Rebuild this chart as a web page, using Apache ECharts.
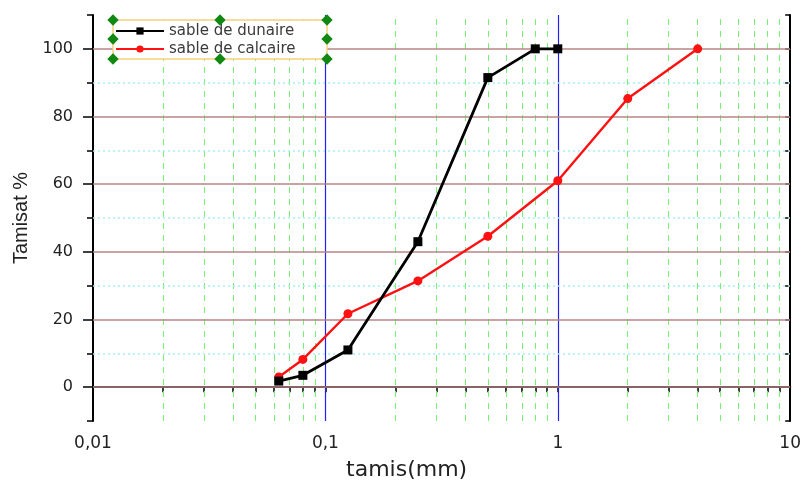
<!DOCTYPE html>
<html><head><meta charset="utf-8">
<script src="https://cdn.jsdelivr.net/npm/echarts@6/dist/echarts.min.js"></script>
<style>html,body{margin:0;padding:0;background:#fff}#c{width:804px;height:486px}</style>
</head><body><div id="c"></div>
<script>
// ---- data ----
const sievesDunaire = [0.063, 0.08, 0.125, 0.25, 0.5, 0.8, 1];
const passingDunaire = [1.8, 3.5, 11, 43, 91.5, 100, 100];
const sievesCalcaire = [0.063, 0.08, 0.125, 0.25, 0.5, 1, 2, 4];
const passingCalcaire = [3, 8.2, 21.7, 31.4, 44.6, 61, 85.3, 100];
const seriesNames = ['sable de dunaire', 'sable de calcaire'];
const xMajorTicks = [0.01, 0.1, 1, 10];
const yMajorTicks = [0, 20, 40, 60, 80, 100];
const yMinorGrid = [10, 30, 50, 70, 90];
const decadeMultipliers = [2, 3, 4, 5, 6, 7, 8, 9];
const decades = [0.01, 0.1, 1];

const xMinor = [];
decades.forEach(d => decadeMultipliers.forEach(k => xMinor.push(+(k * d).toPrecision(3))));
const xAllTicks = [];
decades.forEach(d => { xAllTicks.push(d); decadeMultipliers.forEach(k => xAllTicks.push(+(k * d).toPrecision(3))); });
xAllTicks.push(10);

const FONT = 'DejaVu Sans';
const chart = echarts.init(document.getElementById('c'), null, {renderer: 'canvas'});

const gridLines = [];
xMinor.forEach(v => gridLines.push({xAxis: v, lineStyle: {color: '#77ee77', type: [6, 6], width: 1}}));
[0.1, 1].forEach(v => gridLines.push({xAxis: v, lineStyle: {color: '#2222ee', type: 'solid', width: 1.2}}));
yMinorGrid.forEach(v => gridLines.push({yAxis: v, lineStyle: {color: '#a8f0f4', type: [2, 3], width: 1.5}}));
yMajorTicks.forEach(v => gridLines.push({yAxis: v, lineStyle: {color: '#b88484', type: 'solid', width: 1.6}}));

const diamond = (x, y) => ({type: 'rect', x: x, y: y, rotation: Math.PI / 4, originX: 0, originY: 0,
  shape: {x: -4, y: -4, width: 8, height: 8}, style: {fill: '#118811'}, z: 100});

chart.setOption({
  animation: false,
  grid: {left: 93, right: 13, top: 15, bottom: 62},
  legend: {
    orient: 'vertical', left: 115, top: 22, padding: 0, itemGap: 0, z: 20,
    itemWidth: 48, itemHeight: 9,
    textStyle: {fontFamily: FONT, fontSize: 15, lineHeight: 18, color: '#3a3a3a'},
    data: seriesNames
  },
  xAxis: [{
    type: 'log', logBase: 10, min: 0.01, max: 10,
    name: 'tamis(mm)', nameLocation: 'middle', nameGap: 38,
    nameTextStyle: {fontFamily: FONT, fontSize: 22, color: '#222', padding: [0, 70, 0, 0]},
    axisLine: {lineStyle: {color: '#000', width: 2}},
    axisTick: {show: true, inside: false, length: 5, lineStyle: {color: '#000', width: 1.5}, customValues: xAllTicks},
    axisLabel: {fontFamily: FONT, fontSize: 17, color: '#222', margin: 14,
      customValues: xMajorTicks,
      formatter: v => String(v).replace('.', ',')},
    splitLine: {show: false}
  }, {
    type: 'log', logBase: 10, min: 0.01, max: 10, position: 'top',
    axisLine: {lineStyle: {color: '#000', width: 2}},
    axisTick: {show: true, inside: true, length: 4, lineStyle: {color: '#000', width: 1.5}, customValues: xAllTicks},
    axisLabel: {show: false}, splitLine: {show: false}
  }],
  yAxis: [{
    type: 'value', min: -10, max: 110, interval: 10, position: 'left',
    name: 'Tamisat %', nameLocation: 'middle', nameGap: 60,
    nameTextStyle: {fontFamily: 'Liberation Sans', fontSize: 20, color: '#222'},
    axisLine: {show: true, lineStyle: {color: '#000', width: 2}},
    axisTick: {show: true, inside: false, length: 10, lineStyle: {color: '#000', width: 1.5}, customValues: yMajorTicks},
    axisLabel: {fontFamily: FONT, fontSize: 16, color: '#222', margin: 20, customValues: yMajorTicks},
    splitLine: {show: false}
  }, {
    type: 'value', min: -10, max: 110, interval: 10, position: 'left', offset: 0,
    axisLine: {show: false},
    axisTick: {show: true, inside: false, length: 6, lineStyle: {color: '#000', width: 1.5}},
    axisLabel: {show: false}, splitLine: {show: false}
  }, {
    type: 'value', min: -10, max: 110, interval: 10, position: 'right',
    axisLine: {show: true, lineStyle: {color: '#000', width: 2}},
    axisTick: {show: true, inside: true, length: 5, lineStyle: {color: '#000', width: 1.5}},
    axisLabel: {show: false}, splitLine: {show: false}
  }],
  series: [{
    type: 'line', name: '__grid', data: [], silent: true, z: 1,
    markLine: {silent: true, z: 1, symbol: ['none', 'none'], label: {show: false}, animation: false, data: gridLines}
  }, {
    type: 'line', name: seriesNames[0],
    data: sievesDunaire.map((x, i) => [x, passingDunaire[i]]),
    symbol: 'rect', symbolSize: 9, z: 5,
    lineStyle: {color: '#000', width: 2.8}, itemStyle: {color: '#000'}
  }, {
    type: 'line', name: seriesNames[1],
    data: sievesCalcaire.map((x, i) => [x, passingCalcaire[i]]),
    symbol: 'circle', symbolSize: 9, z: 4,
    lineStyle: {color: '#ff1111', width: 2.4}, itemStyle: {color: '#ff1111'}
  }],
  graphic: [
    {type: 'rect', z: 15, shape: {x: 113, y: 20, width: 214, height: 39}, style: {fill: '#ffffff', stroke: '#f6d27a', lineWidth: 1.5}},
    diamond(113, 20), diamond(220, 20), diamond(327, 20), diamond(113, 39), diamond(327, 39),
    diamond(113, 59), diamond(220, 59), diamond(327, 59)]
});
</script></body></html>
